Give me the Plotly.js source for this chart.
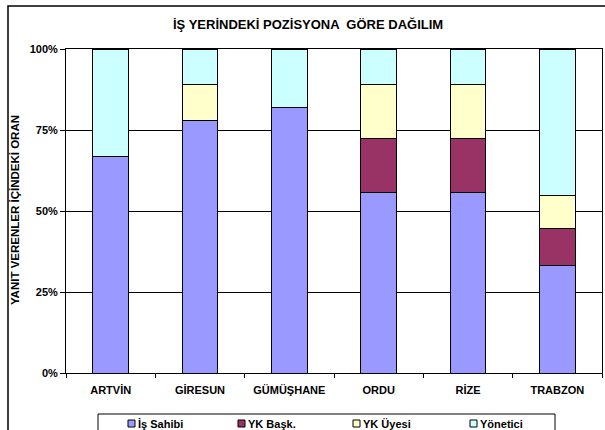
<!DOCTYPE html>
<html>
<head>
<meta charset="utf-8">
<script src="https://cdn.plot.ly/plotly-3.0.1.min.js"></script>
<style>html,body{margin:0;padding:0;background:#fff;}#chart{width:605px;height:430px;}</style>
</head>
<body>
<div id="chart"></div>
<script>
const categories = ["ARTVİN", "GİRESUN", "GÜMÜŞHANE", "ORDU", "RİZE", "TRABZON"];
const isSahibi = [66.7, 77.8, 81.8, 55.6, 55.6, 33.3];
const ykBask   = [0, 0, 0, 16.7, 16.7, 11.4];
const ykUyesi  = [0, 11.1, 0, 16.7, 16.7, 10.1];
const yonetici = [33.3, 11.1, 18.2, 11.0, 11.0, 45.2];
const seriesNames = ["İş Sahibi", "YK Başk.", "YK Üyesi", "Yönetici"];
const seriesColors = ["#9999FF", "#993366", "#FFFFCC", "#CCFFFF"];
const yTickVals = [0, 25, 50, 75, 100];
const yTickText = ["0%", "25%", "50%", "75%", "100%"];

const seriesValues = [isSahibi, ykBask, ykUyesi, yonetici];
const fam = "Arial, Liberation Sans, sans-serif";
const font = {family: fam, size: 11, color: "#000", weight: 700};

const traces = seriesValues.map((vals, i) => ({
  type: "bar",
  name: seriesNames[i],
  x: categories,
  y: vals,
  marker: {color: seriesColors[i], line: {color: "#000", width: 1}},
  hoverinfo: "skip"
}));

const L = 66, R = 3, T = 49, B = 57, W = 605, H = 430;
const pw = W - L - R, ph = H - T - B;
const px = v => (v - L) / pw;
const py = v => (H - B - v) / ph;

// custom legend (positions in pixels)
const legendSquareX = [128, 238, 353, 470];
const legendY = 423.5;
const shapes = [
  {type: "rect", xref: "paper", yref: "paper", x0: px(8), x1: px(640), y0: py(470), y1: py(6),
   line: {color: "#000", width: 1.5}, layer: "below"},
  {type: "rect", xref: "paper", yref: "paper", x0: px(98), x1: px(555), y0: py(460), y1: py(414),
   line: {color: "#000", width: 1}, fillcolor: "#fff", layer: "above"}
];
const annotations = [
  {text: "İŞ YERİNDEKİ POZİSYONA  GÖRE DAĞILIM", xref: "paper", yref: "paper",
   x: px(308), y: py(25), xanchor: "center", yanchor: "middle", showarrow: false,
   font: {family: fam, size: 13, weight: 700, color: "#000"}},
  {text: "YANIT VERENLER İÇİNDEKİ ORAN", xref: "paper", yref: "paper",
   x: px(15), y: py(210), xanchor: "center", yanchor: "middle", textangle: -90, showarrow: false,
   font: {family: fam, size: 11.5, weight: 700, color: "#000"}}
];
seriesNames.forEach((nm, i) => {
  const sx = legendSquareX[i];
  shapes.push({type: "rect", xref: "paper", yref: "paper",
    x0: px(sx), x1: px(sx + 7), y0: py(legendY + 3.5), y1: py(legendY - 3.5),
    fillcolor: seriesColors[i], line: {color: "#000", width: 1}, layer: "above"});
  annotations.push({text: nm, xref: "paper", yref: "paper",
    x: px(sx + 8), y: py(legendY), xanchor: "left", yanchor: "middle", showarrow: false,
    font: font});
});

const layout = {
  width: W, height: H,
  margin: {l: L, r: R, t: T, b: B, pad: 0},
  paper_bgcolor: "#fff",
  plot_bgcolor: "#fff",
  barmode: "stack",
  bargap: 0.6,
  font: font,
  showlegend: false,
  xaxis: {
    type: "category",
    showgrid: false,
    showline: true, linecolor: "#000", linewidth: 1,
    mirror: true,
    ticks: "outside", ticklen: 4, tickcolor: "#000",
    tickson: "boundaries",
    tickfont: font,
    ticklabelstandoff: 7,
    automargin: false,
    fixedrange: true
  },
  yaxis: {
    range: [0, 100],
    tickvals: yTickVals, ticktext: yTickText,
    showgrid: true, gridcolor: "#000", gridwidth: 1,
    showline: true, linecolor: "#000", linewidth: 1,
    mirror: true,
    ticks: "outside", ticklen: 5, tickcolor: "#000",
    tickfont: font,
    zeroline: false,
    automargin: false,
    fixedrange: true
  },
  annotations: annotations,
  shapes: shapes
};

Plotly.newPlot("chart", traces, layout, {staticPlot: true, displayModeBar: false});
</script>
</body>
</html>
